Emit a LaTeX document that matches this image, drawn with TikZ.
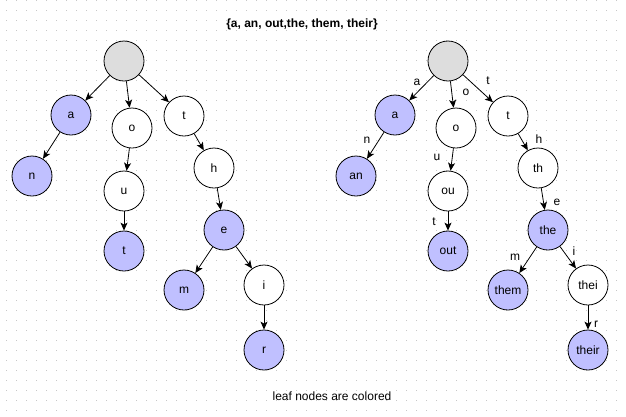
\documentclass[tikz,border=0pt]{standalone}
\usepackage{fontspec}
\setmainfont{Liberation Sans}
\usetikzlibrary{arrows.meta}
\definecolor{LeafFill}{RGB}{192,192,255}
\definecolor{RootFill}{RGB}{221,221,221}
\definecolor{GridDot}{RGB}{200,200,200}

\begin{document}
\begin{tikzpicture}[x=1pt, y=-1pt, font=\fontsize{12}{14}\selectfont]
\tikzset{
  trienode/.style={draw, circle, fill=white, minimum size=40pt, inner sep=0pt, line width=0.8pt},
  leafnode/.style={trienode, fill=LeafFill},
  rootnode/.style={trienode, fill=RootFill},
  elabel/.style={inner sep=0pt},
  arr/.style={-{Stealth[length=8pt,width=7pt,inset=2pt]}, line width=0.8pt}
}
\useasboundingbox (0,0) rectangle (626,416);
% dotted background grid
\foreach \gx in {6,16,...,616}
  \foreach \gy in {0,10,...,410}
    \fill[GridDot] (\gx-0.5,\gy-0.5) rectangle ++(1,1);

\node[font=\fontsize{12}{14}\selectfont\bfseries] (title) at (302,24) {\{a, an, out,the, them, their\}};
\node (note) at (332,396) {leaf nodes are colored};

% left trie: one letter per node
\node[rootnode] (Lroot) at (124,61) {};
\node[leafnode] (La) at (71,115) {a};
\node[trienode] (Lo) at (132,128) {o};
\node[trienode] (Lt) at (184,116) {t};
\node[leafnode] (Ln) at (32,176) {n};
\node[trienode] (Lu) at (124,191) {u};
\node[leafnode] (Lut) at (124,251) {t};
\node[trienode] (Lh) at (214,168) {h};
\node[leafnode] (Le) at (224,230) {e};
\node[leafnode] (Lm) at (184,290) {m};
\node[trienode] (Li) at (264,285) {i};
\node[leafnode] (Lr) at (264,350) {r};

\draw[arr] (Lroot) -- (La);
\draw[arr] (Lroot) -- (Lo);
\draw[arr] (Lroot) -- (Lt);
\draw[arr] (La) -- (Ln);
\draw[arr] (Lo) -- (Lu);
\draw[arr] (Lu) -- (Lut);
\draw[arr] (Lt) -- (Lh);
\draw[arr] (Lh) -- (Le);
\draw[arr] (Le) -- (Lm);
\draw[arr] (Le) -- (Li);
\draw[arr] (Li) -- (Lr);

% right trie: prefixes in the nodes, letters on the edges
\node[rootnode] (Rroot) at (448,61) {};
\node[leafnode] (Ra) at (395,115) {a};
\node[trienode] (Ro) at (456,128) {o};
\node[trienode] (Rt) at (508,116) {t};
\node[leafnode] (Ran) at (356,176) {an};
\node[trienode] (Rou) at (448,191) {ou};
\node[leafnode] (Rout) at (448,251) {out};
\node[trienode] (Rth) at (538,168) {th};
\node[leafnode] (Rthe) at (548,230) {the};
\node[leafnode] (Rthem) at (508,290) {them};
\node[trienode] (Rthei) at (588,285) {thei};
\node[leafnode] (Rtheir) at (588,350) {their};

\draw[arr] (Rroot) -- (Ra);
\draw[arr] (Rroot) -- (Ro);
\draw[arr] (Rroot) -- (Rt);
\draw[arr] (Ra) -- (Ran);
\draw[arr] (Ro) -- (Rou);
\draw[arr] (Rou) -- (Rout);
\draw[arr] (Rt) -- (Rth);
\draw[arr] (Rth) -- (Rthe);
\draw[arr] (Rthe) -- (Rthem);
\draw[arr] (Rthe) -- (Rthei);
\draw[arr] (Rthei) -- (Rtheir);

\node[elabel] (ka) at (417,82) {a};
\node[elabel] (ko) at (466,92) {o};
\node[elabel] (kt) at (488,81) {t};
\node[elabel] (kn) at (367,140) {n};
\node[elabel] (ku) at (437,157) {u};
\node[elabel] (kut) at (434,222) {t};
\node[elabel] (kh) at (539,139) {h};
\node[elabel] (ke) at (557,202) {e};
\node[elabel] (km) at (515,257) {m};
\node[elabel] (ki) at (574,251) {i};
\node[elabel] (kr) at (596,324) {r};
\end{tikzpicture}
\end{document}
